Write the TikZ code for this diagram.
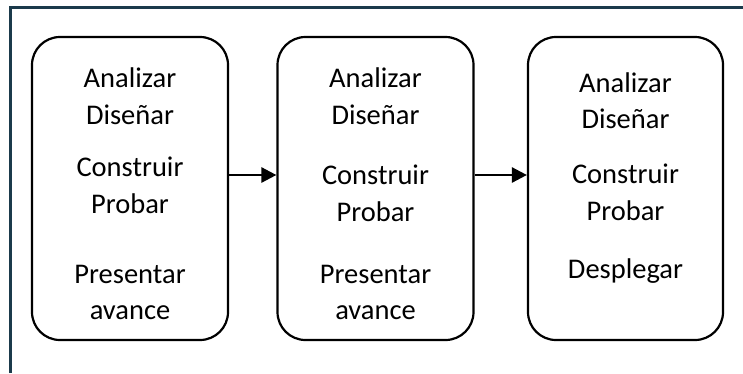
\documentclass[tikz,border=0pt]{standalone}
\usepackage{fontspec}
\setmainfont{Carlito}
\usetikzlibrary{arrows.meta}
\definecolor{framecol}{HTML}{1B3A4B}
\tikzset{
  stagebox/.style={draw=black, line width=2.2pt, rounded corners=28pt, fill=white},
  lbl/.style={anchor=base, inner sep=0pt, font=\fontsize{28.5}{34}\selectfont},
  flow/.style={line width=2.6pt, -{Triangle[length=15pt,width=15pt]}},
}
\begin{document}
\begin{tikzpicture}[x=1pt,y=1pt]
\useasboundingbox (0,0) rectangle (743,-373);
\fill[white] (0,0) rectangle (743,-373);
\coordinate (fA) at (10.5,-373);
\coordinate (fB) at (10.5,-7.5);
\coordinate (fC) at (743,-7.5);
\draw[framecol, line width=3pt] (fA) -- (fB) -- (fC);

\node[stagebox, minimum width=196pt, minimum height=303pt] (b1) at (130,-188.5) {};
\node[stagebox, minimum width=196pt, minimum height=303pt] (b2) at (375.5,-188.5) {};
\node[stagebox, minimum width=195pt, minimum height=303pt] (b3) at (625.5,-188.5) {};

\node[lbl] (t11) at (130,-87) {Analizar};
\node[lbl] (t12) at (130,-124) {Diseñar};
\node[lbl] (t13) at (130,-176) {Construir};
\node[lbl] (t14) at (130,-213) {Probar};
\node[lbl] (t15) at (130,-283) {Presentar};
\node[lbl] (t16) at (130,-319) {avance};

\node[lbl] (t21) at (375.5,-87) {Analizar};
\node[lbl] (t22) at (375.5,-124) {Diseñar};
\node[lbl] (t23) at (375.5,-184) {Construir};
\node[lbl] (t24) at (375.5,-221) {Probar};
\node[lbl] (t25) at (375.5,-283) {Presentar};
\node[lbl] (t26) at (375.5,-319) {avance};

\node[lbl] (t31) at (625.5,-92) {Analizar};
\node[lbl] (t32) at (625.5,-128) {Diseñar};
\node[lbl] (t33) at (625.5,-183) {Construir};
\node[lbl] (t34) at (625.5,-220) {Probar};
\node[lbl] (t35) at (625.5,-278) {Desplegar};

\draw[flow] (b1.east |- 0,-175) -- (b2.west |- 0,-175);
\draw[flow] (b2.east |- 0,-175) -- (b3.west |- 0,-175);
\end{tikzpicture}
\end{document}
